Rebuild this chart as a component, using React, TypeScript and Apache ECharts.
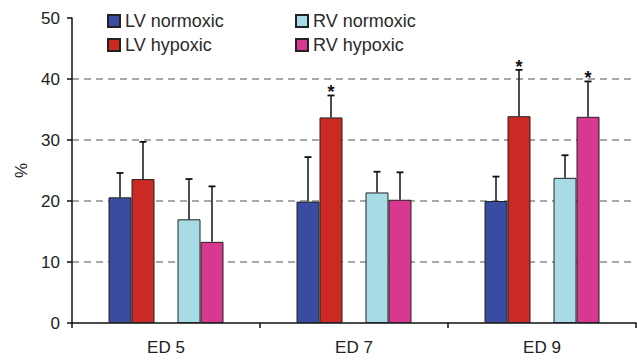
import React, { useEffect, useRef } from "react";
import * as echarts from "echarts";

const categories = ["ED 5", "ED 7", "ED 9"];
const seriesNames = ["LV normoxic", "LV hypoxic", "RV normoxic", "RV hypoxic"];
const lvNormoxic = [20.6, 19.9, 20.0];
const lvHypoxic = [23.6, 33.7, 33.9];
const rvNormoxic = [17.0, 21.4, 23.8];
const rvHypoxic = [13.3, 20.2, 33.8];
const lvNormoxicErr = [24.6, 27.2, 24.0];
const lvHypoxicErr = [29.7, 37.3, 41.5];
const rvNormoxicErr = [23.6, 24.8, 27.5];
const rvHypoxicErr = [22.4, 24.7, 39.6];
const lvNormoxicSig = [0, 0, 0];
const lvHypoxicSig = [0, 1, 1];
const rvNormoxicSig = [0, 0, 0];
const rvHypoxicSig = [0, 0, 1];
const yTicks = [0, 10, 20, 30, 40, 50];

const colors = ["#3a4ba2", "#cb2a24", "#a7dce7", "#d8388f"];
const BAR_W = 23;
const FONT = "Liberation Sans, Arial, sans-serif";

export default function App() {
  const ref = useRef<HTMLDivElement>(null);
  useEffect(() => {
    if (!ref.current) return;
    const chart = echarts.init(ref.current, null, { renderer: "svg" });
    const values = [lvNormoxic, lvHypoxic, rvNormoxic, rvHypoxic];
    const errs = [lvNormoxicErr, lvHypoxicErr, rvNormoxicErr, rvHypoxicErr];
    const sigs = [lvNormoxicSig, lvHypoxicSig, rvNormoxicSig, rvHypoxicSig];
    const slots = [0, 1, 3, 4];

    const barSeries: any[] = [];
    values.forEach((v, i) => {
      barSeries.push({
        name: seriesNames[i],
        type: "bar",
        data: v,
        barWidth: BAR_W,
        barGap: "0%",
        itemStyle: { color: colors[i], borderColor: "#222", borderWidth: 1 },
      });
      if (i === 1) {
        barSeries.push({
          name: "_gap",
          type: "bar",
          data: categories.map(() => null),
          barWidth: BAR_W,
          barGap: "0%",
        });
      }
    });

    const errData: any[] = [];
    values.forEach((v, i) => {
      v.forEach((val, c) => {
        errData.push([c, slots[i], val, errs[i][c], sigs[i][c]]);
      });
    });

    const legendBase = {
      orient: "vertical",
      top: 12,
      padding: 0,
      itemWidth: 12,
      itemHeight: 12,
      itemGap: 6,
      icon: "rect",
      textStyle: { fontFamily: FONT, fontSize: 18, color: "#2a2a2a", lineHeight: 17 },
    };

    const option: any = {
      animation: false,
      grid: { left: 72, right: 1, top: 18, bottom: 37 },
      legend: [
        { ...legendBase, data: seriesNames.slice(0, 2), left: 107 },
        { ...legendBase, data: seriesNames.slice(2, 4), left: 295 },
      ],
      xAxis: {
        type: "category",
        data: categories,
        axisLine: { lineStyle: { color: "#111", width: 1.5 } },
        axisTick: { show: true, length: 5, lineStyle: { color: "#111", width: 1.5 } },
        axisLabel: { fontFamily: FONT, fontSize: 17, color: "#222", margin: 16 },
      },
      yAxis: {
        type: "value",
        min: yTicks[0],
        max: yTicks[yTicks.length - 1],
        interval: 10,
        name: "%",
        nameLocation: "middle",
        nameGap: 42,
        nameRotate: 90,
        nameTextStyle: { fontFamily: FONT, fontSize: 17, color: "#222" },
        axisLine: { show: true, lineStyle: { color: "#111", width: 1.5 } },
        axisTick: { show: true, length: 5, lineStyle: { color: "#111", width: 1.5 } },
        axisLabel: { fontFamily: FONT, fontSize: 17, color: "#222", margin: 12 },
        splitLine: {
          show: true,
          showMinLine: false,
          showMaxLine: false,
          lineStyle: { color: "#8a8a8a", width: 1.5, type: [7, 5] },
        },
      },
      series: [
        ...barSeries,
        {
          type: "custom",
          name: "_err",
          data: errData,
          encode: { x: 0, y: 3 },
          z: 10,
          renderItem: (params: any, api: any) => {
            const c = api.value(0);
            const slot = api.value(1);
            const val = api.value(2);
            const top = api.value(3);
            const sig = api.value(4);
            const center = api.coord([c, 0])[0];
            const x = center + (slot - 2) * BAR_W;
            const yb = api.coord([c, val])[1];
            const yt = api.coord([c, top])[1];
            const children: any[] = [
              { type: "line", shape: { x1: x, y1: yb, x2: x, y2: yt }, style: { stroke: "#111", lineWidth: 1.5 } },
              { type: "line", shape: { x1: x - 3.5, y1: yt, x2: x + 3.5, y2: yt }, style: { stroke: "#111", lineWidth: 1.8 } },
            ];
            if (sig) {
              children.push({
                type: "text",
                x: x,
                y: yt + 6,
                style: {
                  text: "*",
                  fontSize: 18,
                  fontWeight: "bold",
                  fontFamily: FONT,
                  fill: "#111",
                  align: "center",
                  verticalAlign: "bottom",
                },
              });
            }
            return { type: "group", children };
          },
        },
      ],
    };
    chart.setOption(option);
    return () => chart.dispose();
  }, []);
  return <div ref={ref} style={{ width: 637, height: 360, position: "absolute", left: 0, top: 0 }} />;
}
